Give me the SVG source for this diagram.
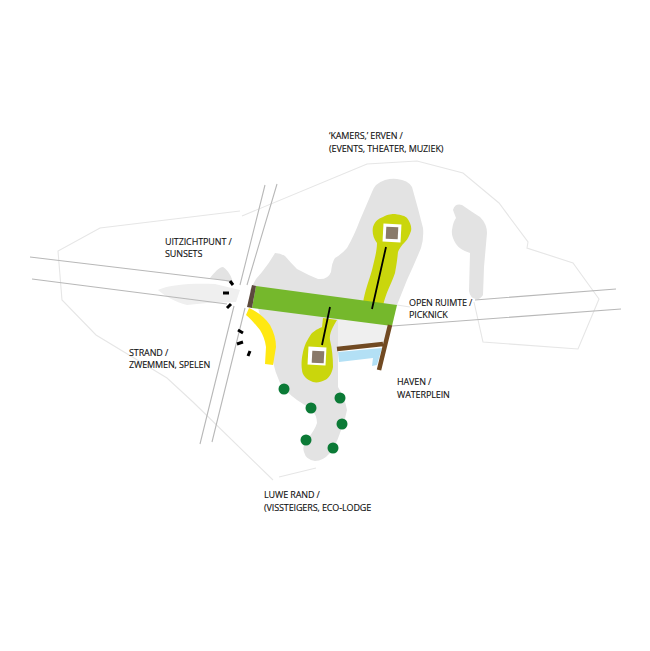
<svg xmlns="http://www.w3.org/2000/svg" width="650" height="651" viewBox="0 0 650 651">
<style>
text{font-family:"Open Sans","Noto Sans",sans-serif;font-size:9px;fill:#111;letter-spacing:-.12px;stroke:#111;stroke-width:.12}
.o{fill:none;stroke:#e6e6e6;stroke-width:1.1}
.r{fill:none;stroke:#b8b8b8;stroke-width:1.1}
.g{fill:#e3e3e3}
.p{fill:#efefef}
.t{fill:#0b7a36}
.b{stroke:#000;stroke-width:1.8;fill:none}
.d{stroke:#000;stroke-width:3;fill:none}
.w{stroke:#714a22;stroke-width:4.5;fill:none}
.y{fill:#cad60c}
.s{fill:#fff}
.k{fill:#8a7a6a}
</style>
<rect width="650" height="651" fill="#fff"/>
<g id="outline">
<path class="o" d="M240 211L100 228L58 251L62 300L96 335L167 378L193 402L273 480"/>
<path class="o" d="M279 477L316 468"/>
<path class="o" d="M242 216L367 164L417 161L463 173L499 203L528 242L527 248L573 263L599 299L578 349L483 342L474 302"/>
</g>
<g id="land">
<path class="p" d="M158 290C170 284 195 283 215 284L240 290L236 302L207 303L187 305C175 302 165 296 158 290Z"/>
<path class="g" d="M210 278C215 272 219 267 223 267C228 270 232 277 233 283L225 281Z"/>
<path class="p" d="M337 320L397 305L391 326L383 345L337 350Z"/>
<path class="g" d="M256 279L262 272Q270 262 275 253Q280 253 285 256Q291 263 297 269Q308 275 318 279Q328 280 331 272Q332 262 335 258Q342 254 347 248Q354 236 360 220L372 192Q375 183 385 180Q392 178 397 179Q408 180 412 187Q418 208 423 228Q424 238 421 248Q414 265 407 280L397 305L338 320L338 387Q345 398 347 410Q345 422 340 433Q336 445 330 453Q323 461 315 461Q306 460 304 452Q302 446 306 441Q315 430 317 423Q317 415 311 409Q303 404 297 400Q287 393 280 383Q275 372 273 362L258 308L250 290Z"/>
<path class="g" d="M453 210Q455 203 462 205Q472 212 480 217Q487 224 487 233L484 267L483 295Q480 300 476 299Q470 298 469 291L470 253Q460 250 456 244Q451 236 452 230Q453 222 456 218Z"/>
</g>
<g id="roads">
<path class="r" d="M30 257L230 281M32 279L227 304M265 185L240 285M277 184L247 285M234 306L200 444M245 308L212 442M392 326L621 309M475 300L616 289"/>
<path class="o" d="M397 305L410 307"/>
</g>
<g id="kamers">
<path class="y" d="M373 227C375 221 378 219 383 217C388 214 392 214 395 214C402 215 405 216 407 218C410 222 412 227 411 231C409 236 408 239 405 242C401 246 399 249 398 252C397 262 396 268 395 273C391 285 386 292 383 306L363 303C365 290 369 281 372 270C375 258 377 250 377 243C373 238 372 232 373 227Z"/>
<path class="y" d="M323 318L337 320C333 327 329 333 330 340C332 348 333 358 333 367C332 374 328 379 325 380C321 382 317 383 313 382C307 380 302 375 302 370C301 362 302 357 303 352C305 343 309 337 312 333C317 329 320 328 322 327Z"/>
<rect class="s" x="383" y="224" width="18" height="18" transform="rotate(3 392 233)"/>
<rect class="k" x="386" y="227" width="12" height="12" transform="rotate(3 392 233)"/>
<rect class="s" x="308" y="347" width="18" height="18" transform="rotate(3 317 356)"/>
<rect class="k" x="312" y="351" width="12" height="12" transform="rotate(3 318 357)"/>
</g>
<g id="open-ruimte">
<path d="M256 286L397 305L392 326L252 308Z" fill="#75b82c"/>
<path d="M252 285L256 286L252 308L247 307Z" fill="#5c4a3e"/>
</g>
<g id="strand"><path d="M246 315L249 308C258 312 265 318 270 325C274 332 276 340 276 347L273 365L265 364L266 347C265 340 263 335 260 330C256 325 251 319 246 315Z" fill="#ffe812"/></g>
<g id="haven">
<path d="M338 352L382 348L377 365L372 366L373 358L339 362Z" fill="#b3e0f5"/>
<path class="w" d="M337 349L383 344M390 325L379 370"/>
</g>
<g id="connectors">
<path class="b" d="M386 247L372 309M330 307L322 345"/>
<path class="d" d="M230 281L233 285M223 293L229 293M227 308L231 304M238 330L243 333M237 344L243 342M248 356L250 351"/>
</g>
<g id="trees">
<circle class="t" cx="284" cy="389" r="5.5"/><circle class="t" cx="311" cy="408" r="5.5"/><circle class="t" cx="340" cy="398" r="5.5"/><circle class="t" cx="342" cy="424" r="5.5"/><circle class="t" cx="306" cy="440" r="5.5"/><circle class="t" cx="333" cy="448" r="5.5"/>
</g>
<g id="labels">
<text x="329" y="139">‘KAMERS,’ ERVEN /</text><text x="329" y="152">(EVENTS, THEATER, MUZIEK)</text>
<text x="165" y="245">UITZICHTPUNT /</text><text x="165" y="257">SUNSETS</text>
<text x="409" y="306">OPEN RUIMTE /</text><text x="409" y="318">PICKNICK</text>
<text x="129" y="356">STRAND /</text><text x="129" y="368">ZWEMMEN, SPELEN</text>
<text x="397" y="385">HAVEN /</text><text x="397" y="398">WATERPLEIN</text>
<text x="264" y="498">LUWE RAND /</text><text x="264" y="511">(VISSTEIGERS, ECO-LODGE</text>
</g>
</svg>
